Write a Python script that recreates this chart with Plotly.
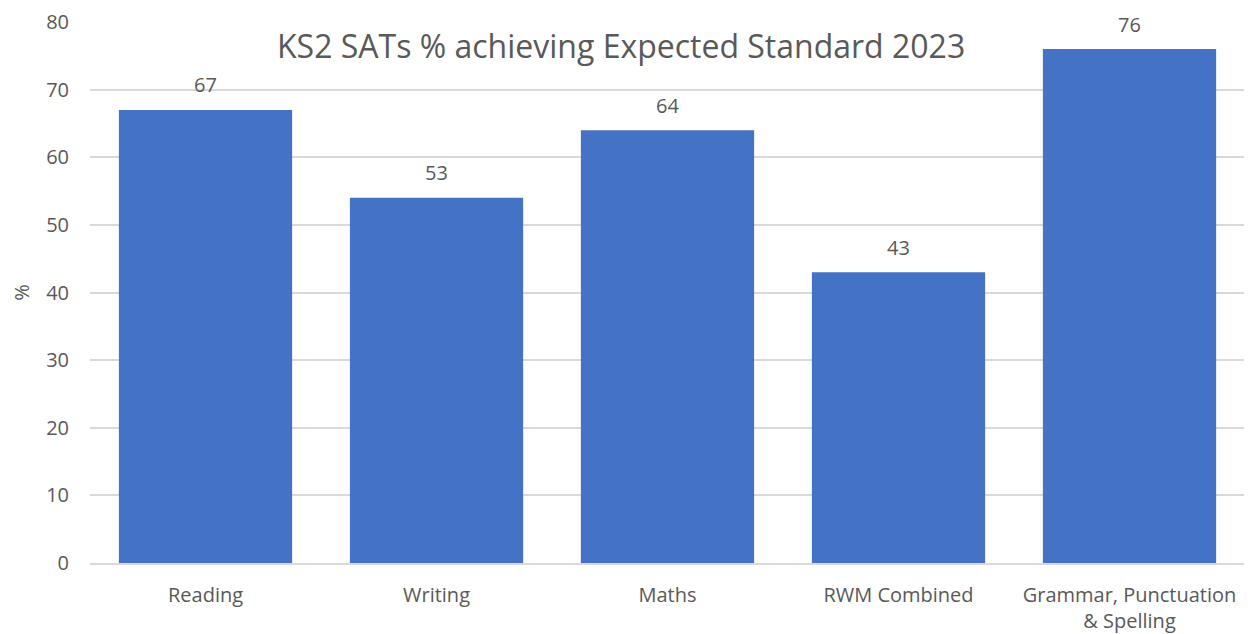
import plotly.graph_objects as go

categories = ["Reading", "Writing", "Maths", "RWM Combined", "Grammar, Punctuation<br>& Spelling"]
bar_values = [67, 54, 64, 43, 76]
label_values = [67, 53, 64, 43, 76]
y_ticks = [0, 10, 20, 30, 40, 50, 60, 70, 80]

FONT = "Open Sans"
GREY = "#595959"

fig = go.Figure()
fig.add_trace(go.Bar(
    x=categories, y=bar_values,
    marker=dict(color="#4472C4", line=dict(width=0)),
    width=0.75,
    hoverinfo="skip",
))

for c, v, lab in zip(categories, bar_values, label_values):
    fig.add_annotation(x=c, y=v, text=str(lab), showarrow=False,
                       yshift=25, font=dict(family=FONT, size=20, color=GREY))

fig.update_layout(
    width=1244, height=626,
    margin=dict(l=82, r=7, t=14, b=71, autoexpand=False),
    paper_bgcolor="white", plot_bgcolor="white",
    showlegend=False,
    font=dict(family=FONT, color=GREY, size=20),
    annotations=list(fig.layout.annotations) + [dict(
        text="KS2 SATs % achieving Expected Standard 2023",
        xref="paper", yref="y", x=0.46, y=76.5, showarrow=False,
        font=dict(family=FONT, size=32, color=GREY), xanchor="center", yanchor="middle",
    )],
)
fig.update_xaxes(
    automargin=False,
    showgrid=False, showline=True, linecolor="#D9D9D9", linewidth=1.5,
    ticks="", tickfont=dict(family=FONT, size=20, color=GREY),
    ticklabelstandoff=13,
)
fig.update_yaxes(
    automargin=False,
    range=[0, 80], tickvals=y_ticks, showgrid=True, gridcolor="#D9D9D9", gridwidth=1.5,
    zeroline=False, showline=False, ticks="",
    tickfont=dict(family=FONT, size=20, color=GREY), ticklabelstandoff=20,
    title=dict(text="%", font=dict(family=FONT, size=20, color=GREY), standoff=22),
)

fig.write_html("out.html")
